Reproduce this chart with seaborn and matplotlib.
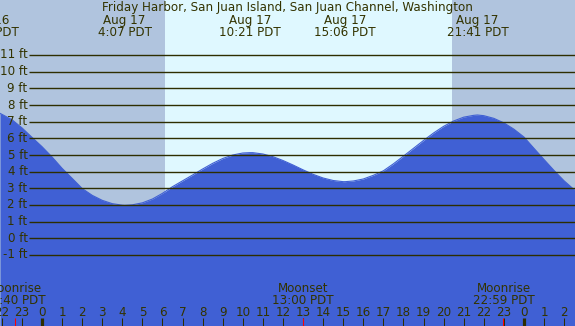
import matplotlib
matplotlib.use("Agg")
import matplotlib.pyplot as plt
import matplotlib.transforms as mtransforms
import numpy as np
import pandas as pd
import seaborn as sns

# ---------------- data ----------------
title = "Friday Harbor, San Juan Island, San Juan Channel, Washington"

# tide height (ft), hours relative to midnight Aug 17
tide_hours = [-2.09, -1.5, -1.0, -0.5, 0.0, 0.5, 1.0, 1.5, 2.0, 2.5, 3.0, 3.5, 4.0, 4.12,
              4.5, 5.0, 5.5, 6.0, 6.5, 7.0, 7.5, 8.0, 8.5, 9.0, 9.5, 10.0, 10.35,
              10.5, 11.0, 11.5, 12.0, 12.5, 13.0, 13.5, 14.0, 14.5, 15.0, 15.1,
              15.5, 16.0, 16.5, 17.0, 17.5, 18.0, 18.5, 19.0, 19.5, 20.0, 20.5, 21.0,
              21.5, 21.68, 22.0, 22.5, 23.0, 23.5, 24.0, 24.5, 25.0, 25.5, 26.0, 26.54]
tide_heights = [7.5, 7.12, 6.63, 6.06, 5.5, 4.88, 4.2, 3.6, 2.99, 2.58, 2.28, 2.08, 1.99, 1.98,
                2.01, 2.13, 2.36, 2.7, 3.1, 3.45, 3.8, 4.16, 4.5, 4.79, 5.0, 5.12, 5.14,
                5.14, 5.06, 4.9, 4.67, 4.4, 4.11, 3.84, 3.62, 3.47, 3.40, 3.40,
                3.44, 3.56, 3.78, 4.05, 4.47, 4.93, 5.4, 5.87, 6.32, 6.72, 7.04, 7.27,
                7.38, 7.40, 7.36, 7.2, 6.93, 6.55, 6.08, 5.4, 4.73, 4.07, 3.45, 2.88]

# high / low tide labels
extreme_dates = ["Aug 16", "Aug 17", "Aug 17", "Aug 17", "Aug 17"]
extreme_times = ["21:19 PDT", "4:07 PDT", "10:21 PDT", "15:06 PDT", "21:41 PDT"]
extreme_hours = [-2.68, 4.117, 10.35, 15.1, 21.683]

# moon events
moon_labels = ["Moonrise", "Moonset", "Moonrise"]
moon_times = ["22:40 PDT", "13:00 PDT", "22:59 PDT"]
moon_hours = [-1.333, 13.0, 22.983]

# sun
sunrise_hour = 6.13
sunset_hour = 20.40

# grid levels (ft)
levels = list(range(-1, 12))
level_labels = [f"{v} ft" for v in levels]

# hour ticks
tick_hours = list(range(-2, 27))
tick_labels = [str(h % 24) for h in tick_hours]

# ---------------- style ----------------
W, H = 575, 326
PX_PER_HR = 20.08
X0_PX = 42.0           # pixel of midnight Aug 17
FT_PX = 200.0 / 12.0
Y11_PX = 55.0

xmin = (0 - X0_PX) / PX_PER_HR
xmax = (W - X0_PX) / PX_PER_HR
ymax = 11 + Y11_PX / FT_PX
ymin = -1 - (H - (Y11_PX + 12 * FT_PX)) / FT_PX

night_c = "#B0C4DE"
day_c = "#DFF8FF"
water_c = "#4060D4"
text_c = "#333300"
line_c = "#2E2E00"
FS = 8.55

sns.set_style("white")
plt.rcParams["font.family"] = ["DejaVu Sans"]

fig = plt.figure(figsize=(W / 100, H / 100), dpi=100)
ax = fig.add_axes([0, 0, 1, 1])

# background
ax.axvspan(xmin, sunrise_hour, color=night_c, lw=0, zorder=0)
ax.axvspan(sunrise_hour, sunset_hour, color=day_c, lw=0, zorder=0)
ax.axvspan(sunset_hour, xmax, color=night_c, lw=0, zorder=0)

# tide
df = pd.DataFrame({"hour": tide_hours, "height": tide_heights})
ax.fill_between(df["hour"], df["height"], ymin, color=water_c, lw=0, zorder=1)
sns.lineplot(data=df, x="hour", y="height", ax=ax, color=water_c, lw=0.8,
             estimator=None, sort=False, zorder=1)
ax.set_xlim(xmin, xmax)
ax.set_ylim(ymin, ymax)
ax.axis("off")

# horizontal level lines + labels
line_start = (29 - X0_PX) / PX_PER_HR
ax.hlines(levels, line_start, xmax, color=line_c, lw=1.0, zorder=2)
for v, lab in zip(levels, level_labels):
    ax.annotate(lab, xy=(line_start, v), xytext=(-1.5, 0), textcoords="offset pixels",
                ha="right", va="center", fontsize=FS, color=text_c, zorder=3)

bt = mtransforms.blended_transform_factory(ax.transData, ax.transAxes)

def yf(px):
    return 1 - px / H

# title and extreme labels
ax.text(0.5, yf(11), title, transform=ax.transAxes, ha="center", va="baseline",
        fontsize=FS, color=text_c, zorder=4)
for d, t, h in zip(extreme_dates, extreme_times, extreme_hours):
    ax.text(h, yf(24), d, transform=bt, ha="center", va="baseline",
            fontsize=FS, color=text_c, zorder=4)
    ax.text(h, yf(36), t, transform=bt, ha="center", va="baseline",
            fontsize=FS, color=text_c, zorder=4)

# moon labels
for lab, t, h in zip(moon_labels, moon_times, moon_hours):
    ax.text(h, yf(292), lab, transform=bt, ha="center", va="baseline",
            fontsize=FS, color=text_c, zorder=4)
    ax.text(h, yf(304), t, transform=bt, ha="center", va="baseline",
            fontsize=FS, color=text_c, zorder=4)

# hour ticks
for h, lab in zip(tick_hours, tick_labels):
    lw = 2.3 if h % 24 == 0 else 0.75
    ax.vlines(h, 0, 8 / H, transform=bt, color=line_c, lw=lw, zorder=4)
    ax.text(h, yf(316), lab, transform=bt, ha="center", va="baseline",
            fontsize=FS, color=text_c, zorder=4)
for h in moon_hours:
    ax.vlines(h, 0, 8 / H, transform=bt, color="red", lw=0.75, zorder=5)

fig.savefig("out.png", dpi=100)
